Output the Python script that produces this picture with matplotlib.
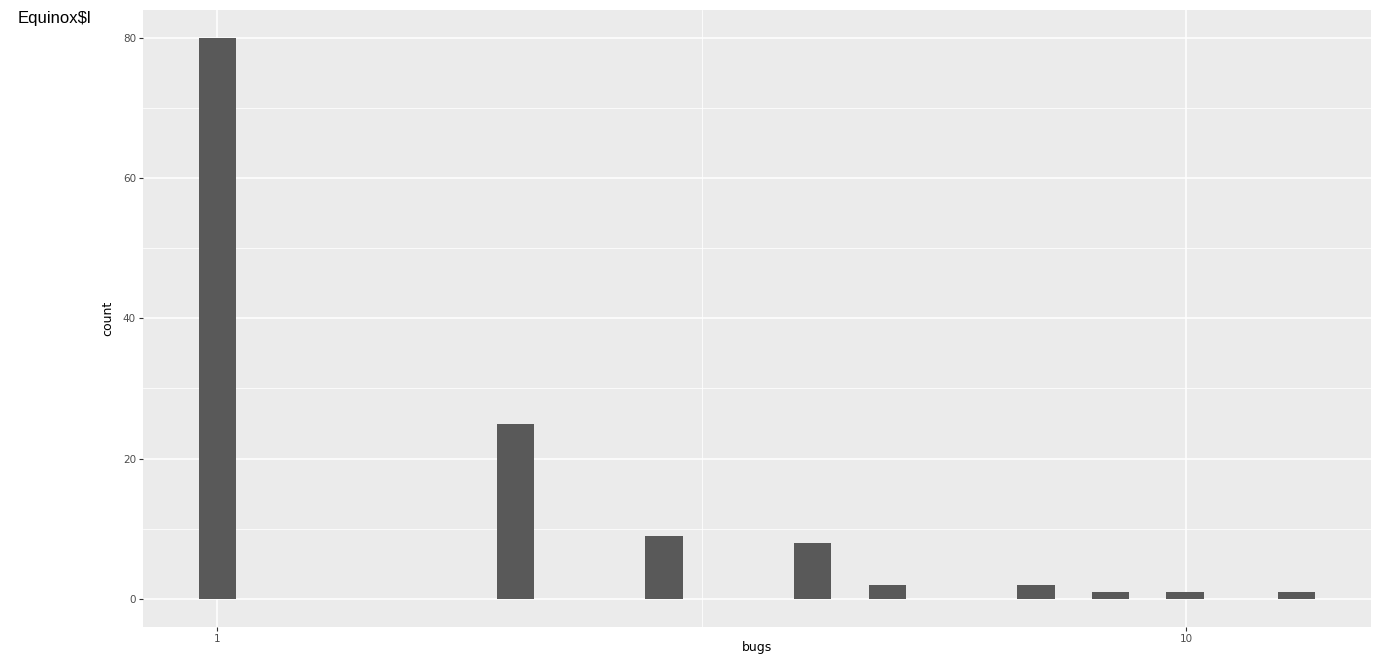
import numpy as np
import matplotlib
matplotlib.use("Agg")
import matplotlib.pyplot as plt
from matplotlib.ticker import FixedLocator, NullFormatter

# histogram of bugs (log10 x scale, 30 bins as in ggplot)
bugs = [1, 2, 3, 4, 5, 7, 8, 10, 13]
counts = [80, 25, 9, 8, 2, 2, 1, 1, 1]
n_bins = 30

lo, hi = np.log10(min(bugs)), np.log10(max(bugs))
bw = (hi - lo) / (n_bins - 1)
centers = lo + np.round((np.log10(bugs) - lo) / bw) * bw
left = 10 ** (centers - bw / 2)
right = 10 ** (centers + bw / 2)

fig = plt.figure(figsize=(13.77, 6.56), dpi=100)
ax = fig.add_axes([143 / 1377, 1 - 627 / 656, (1371 - 143) / 1377, (627 - 9.5) / 656])
ax.set_facecolor("#EBEBEB")
ax.set_xscale("log")

ax.bar(left, counts, width=right - left, align="edge", color="#595959", zorder=3)

x0 = lo - bw / 2 - 0.05 * (hi - lo + bw)
x1 = hi + bw / 2 + 0.05 * (hi - lo + bw)
ax.set_xlim(10 ** x0, 10 ** x1)
ax.set_ylim(-4, 84)

ax.xaxis.set_major_locator(FixedLocator([1, 10]))
ax.xaxis.set_minor_locator(FixedLocator([10 ** 0.5]))
ax.xaxis.set_minor_formatter(NullFormatter())
ax.set_xticklabels(["1", "10"])
ax.set_yticks([0, 20, 40, 60, 80])
ax.yaxis.set_minor_locator(FixedLocator([10, 30, 50, 70]))

ax.grid(True, which="major", color="white", linewidth=1.1, zorder=1)
ax.grid(True, which="minor", color="white", linewidth=0.55, zorder=1)
for s in ax.spines.values():
    s.set_visible(False)

ax.tick_params(which="major", length=3, color="#333333", labelsize=7.5,
               labelcolor="#4D4D4D", pad=2)
ax.tick_params(which="minor", length=0)

ax.set_xlabel("bugs", fontsize=9, va="center")
ax.xaxis.set_label_coords(0.5, -20 / 617.5)
ax.set_ylabel("count", fontsize=9, labelpad=6)
fig.text(18 / 1377, 1 - 18 / 656, "Equinox$l", fontsize=12, va="center",
         ha="left", family="Liberation Sans")

fig.savefig("out.png", dpi=100)
